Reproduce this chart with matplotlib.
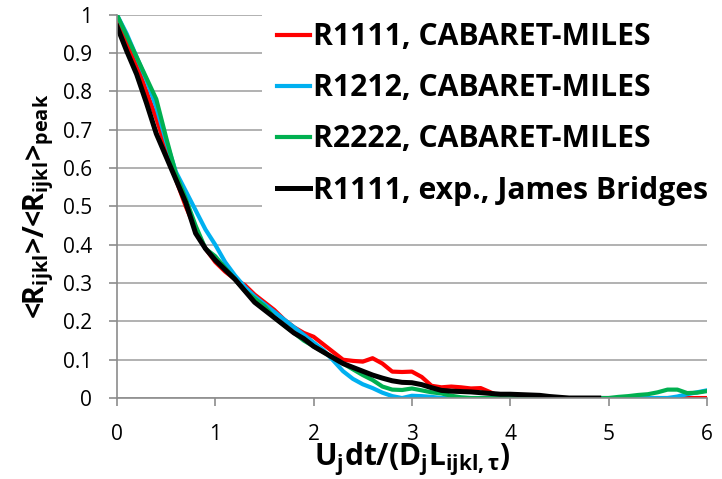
import matplotlib
matplotlib.use("Agg")
import matplotlib.pyplot as plt
import numpy as np

plt.rcParams['font.family'] = ['Open Sans', 'DejaVu Sans']
plt.rcParams['mathtext.fontset'] = 'custom'
plt.rcParams['mathtext.rm'] = 'Open Sans:bold'
plt.rcParams['mathtext.it'] = 'Open Sans:bold'
plt.rcParams['mathtext.bf'] = 'Open Sans:bold'

x_sim = [round(0.1 * i, 1) for i in range(61)]

r1111 = [0.98, 0.93, 0.87, 0.80, 0.73, 0.65, 0.57, 0.50, 0.44, 0.39,
         0.355, 0.33, 0.31, 0.295, 0.27, 0.25, 0.23, 0.205, 0.185, 0.17,
         0.16, 0.14, 0.12, 0.10, 0.097, 0.095, 0.104, 0.09, 0.069, 0.068,
         0.069, 0.055, 0.032, 0.028, 0.03, 0.028, 0.025, 0.026, 0.015, 0.004,
         0.0, 0, 0, 0, 0, 0, 0, 0, 0, 0,
         0, 0, 0, 0, 0, 0, 0, 0, 0, 0, 0]

r1212 = [1.0, 0.95, 0.89, 0.83, 0.76, 0.67, 0.59, 0.54, 0.49, 0.44,
         0.40, 0.355, 0.32, 0.29, 0.265, 0.245, 0.225, 0.205, 0.185, 0.165,
         0.145, 0.125, 0.098, 0.07, 0.05, 0.036, 0.026, 0.014, 0.005, 0.0,
         0.006, 0.005, 0.003, 0.0, 0, 0, 0, 0, 0, 0,
         0, 0, 0, 0, 0, 0, 0, 0, 0, 0,
         0, 0, 0, 0, 0, 0, 0, 0.004, 0.01, 0.015, 0.02]

r2222 = [1.0, 0.945, 0.89, 0.835, 0.78, 0.68, 0.585, 0.52, 0.45, 0.39,
         0.37, 0.34, 0.31, 0.28, 0.26, 0.24, 0.21, 0.19, 0.17, 0.15,
         0.135, 0.12, 0.105, 0.09, 0.075, 0.06, 0.047, 0.03, 0.022, 0.021,
         0.025, 0.02, 0.015, 0.012, 0.006, 0.002, 0.0, 0, 0, 0,
         0, 0, 0, 0, 0, 0, 0, 0, 0, 0,
         0, 0.003, 0.005, 0.008, 0.01, 0.015, 0.022, 0.022, 0.013, 0.014, 0.018]

x_exp = [round(0.1 * i, 1) for i in range(50)]
r1111_exp = [0.97, 0.905, 0.845, 0.77, 0.69, 0.63, 0.57, 0.51, 0.43, 0.39,
             0.36, 0.335, 0.31, 0.28, 0.25, 0.23, 0.21, 0.19, 0.17, 0.155,
             0.135, 0.12, 0.105, 0.09, 0.08, 0.07, 0.06, 0.052, 0.045, 0.041,
             0.04, 0.035, 0.027, 0.02, 0.018, 0.017, 0.016, 0.014, 0.012, 0.01,
             0.01, 0.009, 0.008, 0.007, 0.004, 0.002, 0.0, 0.0, 0.0, 0.0]

labels = ["R1111, CABARET-MILES", "R1212, CABARET-MILES",
          "R2222, CABARET-MILES", "R1111, exp., James Bridges"]
colors = ["#FF0000", "#00B0F0", "#00B050", "#000000"]

fig = plt.figure(figsize=(7.22, 4.79), dpi=100)
ax = fig.add_axes([0.162, 0.169, 0.817, 0.800])

series = [(x_sim, r1111), (x_sim, r1212), (x_sim, r2222), (x_exp, r1111_exp)]
lws = [3.0, 3.0, 3.0, 3.6]
for (xs, ys), lab, c, lw in zip(series, labels, colors, lws):
    ax.plot(xs, ys, color=c, lw=lw, label=lab, solid_joinstyle='round')

ax.set_xlim(0, 6)
ax.set_ylim(0, 1)
ax.set_xticks(range(7))
ax.set_yticks([i / 10 for i in range(11)])
ax.set_yticklabels(["0", "0.1", "0.2", "0.3", "0.4", "0.5", "0.6", "0.7", "0.8", "0.9", "1"])
ax.yaxis.grid(True, color="#ababab", lw=1.3)
ax.set_axisbelow(True)
for s in ["top", "right"]:
    ax.spines[s].set_visible(False)
for s in ["left", "bottom"]:
    ax.spines[s].set_color("#8c8c8c")
    ax.spines[s].set_linewidth(1.2)
ax.tick_params(axis="both", colors="#8c8c8c", length=6, width=1.2, labelsize=15,
               labelcolor="black")
ax.tick_params(axis="x", pad=13)
ax.tick_params(axis="y", pad=12)

ax.set_xlabel(r"U$_j$dt/(D$_j$L$_{ijkl,τ}$)", fontsize=21.5, fontweight="bold", labelpad=-3.5)
ax.set_ylabel(r"<R$_{ijkl}$>/<R$_{ijkl}$>$_{peak}$", fontsize=20.5, fontweight="bold", labelpad=5)

leg = ax.legend(loc="upper left", bbox_to_anchor=(0.246, 1.02), frameon=True,
                prop={"family": "Open Sans", "weight": "bold", "size": 21.7},
                handlelength=1.1, handletextpad=0.1, labelspacing=0.70,
                borderpad=0.5, borderaxespad=0)
leg.get_frame().set_edgecolor("none")
leg.get_frame().set_facecolor("white")
leg.get_frame().set_alpha(1)

fig.savefig("out.png", dpi=100)
